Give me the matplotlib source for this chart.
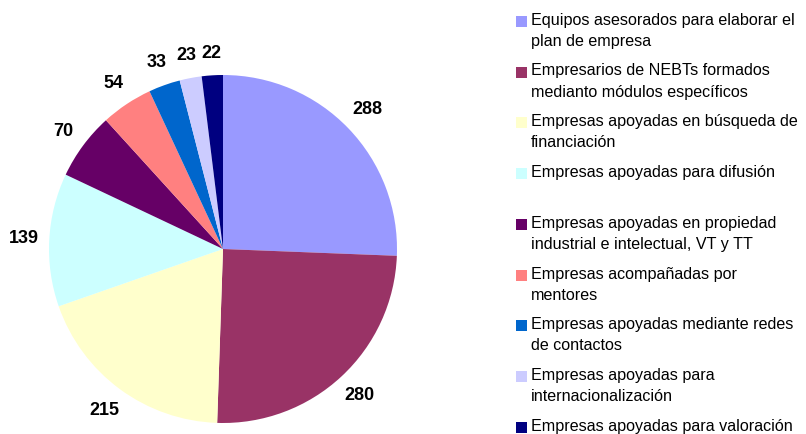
import matplotlib
matplotlib.use("Agg")
import matplotlib.pyplot as plt
import numpy as np
from matplotlib.patches import Rectangle

plt.rcParams['font.family'] = ['Liberation Sans', 'DejaVu Sans']

# data
valores = [288, 280, 215, 139, 70, 54, 33, 23, 22]
etiquetas = ["Equipos asesorados para elaborar el\nplan de empresa",
             "Empresarios de NEBTs formados\nmedianto módulos específicos",
             "Empresas apoyadas en búsqueda de\nfinanciación",
             "Empresas apoyadas para difusión",
             "Empresas apoyadas en propiedad\nindustrial e intelectual, VT y TT",
             "Empresas acompañadas por\nmentores",
             "Empresas apoyadas mediante redes\nde contactos",
             "Empresas apoyadas para\ninternacionalización",
             "Empresas apoyadas para valoración"]
colores = ["#9999FF", "#993366", "#FFFFCC", "#CCFFFF", "#660066",
           "#FF8080", "#0066CC", "#CCCCFF", "#000080"]

W, H = 806, 434
fig = plt.figure(figsize=(W/100, H/100), dpi=100)

# pie: center (223,249), radius 174 px
cx, cy, r = 223, 249, 174
ax = fig.add_axes([(cx-r)/W, (H-cy-r)/H, 2*r/W, 2*r/H])
wedges, texts = ax.pie(valores, colors=colores, startangle=90, counterclock=False,
                       labels=[str(v) for v in valores], labeldistance=1.1,
                       textprops=dict(fontsize=13, fontweight='bold', color='black'))
for w in wedges:
    w.set_clip_on(False)
ax.set_xlim(-1, 1)
ax.set_ylim(-1, 1)
ax.set_aspect('equal')
ax.axis('off')

# put labels like Excel: box just outside the rim
renderer = fig.canvas.get_renderer()
for w, t in zip(wedges, texts):
    t.set_ha('center')
    t.set_va('center')
    ang = np.deg2rad((w.theta1 + w.theta2) / 2)
    dx, dy = np.cos(ang), np.sin(ang)
    bb = t.get_window_extent(renderer)
    off = (abs(dx) * bb.width * 0.33 + abs(dy) * 7) / r
    d = 1.085 + off
    t.set_position((d * dx, d * dy))

# legend drawn by hand (square aligned with first line of each entry)
y0 = 20.7
paso = 50.8
for i, (lab, col) in enumerate(zip(etiquetas, colores)):
    y = y0 + i*paso
    fig.patches.append(Rectangle((516/W, 1 - (y+6)/H), 11/W, 11/H,
                                 transform=fig.transFigure, facecolor=col,
                                 edgecolor='none'))
    fig.text(531/W, 1 - (y-8)/H, lab, fontsize=11.6, va='top', ha='left',
             linespacing=1.5, color='black')

fig.savefig("out.png", dpi=100)
